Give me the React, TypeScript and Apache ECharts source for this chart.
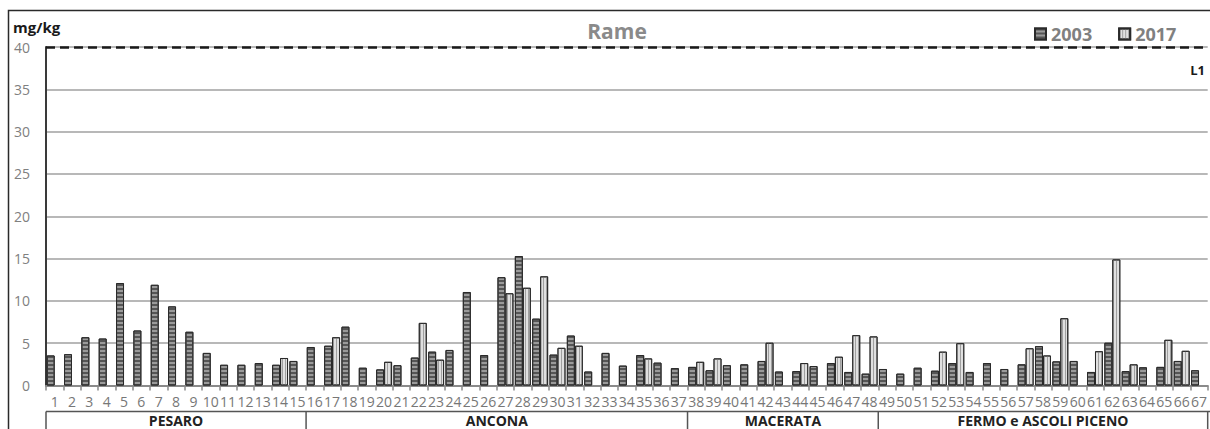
import React, { useEffect, useRef } from "react";
import * as echarts from "echarts";

const categories = [
  "1", "2", "3", "4", "5", "6", "7", "8", "9", "10",
  "11", "12", "13", "14", "15", "16", "17", "18", "19", "20",
  "21", "22", "23", "24", "25", "26", "27", "28", "29", "30",
  "31", "32", "33", "34", "35", "36", "37", "38", "39", "40",
  "41", "42", "43", "44", "45", "46", "47", "48", "49", "50",
  "51", "52", "53", "54", "55", "56", "57", "58", "59", "60",
  "61", "62", "63", "64", "65", "66", "67",
];

const values2003 = [
  3.55, 3.7, 5.7, 5.55, 12.1, 6.5, 11.9, 9.35, 6.35, 3.85,
  2.45, 2.45, 2.65, 2.45, 2.9, 4.55, 4.7, 6.95, 2.1, 1.9,
  2.4, 3.3, 4.0, 4.2, 11.05, 3.6, 12.8, 15.3, 7.9, 3.65,
  5.9, 1.65, 3.85, 2.35, 3.6, 2.7, 2.05, 2.2, 1.8, 2.4,
  2.5, 2.9, 1.65, 1.7, 2.3, 2.65, 1.6, 1.4, 1.95, 1.4,
  2.1, 1.75, 2.65, 1.6, 2.65, 1.95, 2.5, 4.65, 2.85, 2.9,
  1.6, 5.05, 1.7, 2.15, 2.2, 2.9, 1.8,
];

const values2017 = [
  null, null, null, null, null, null, null, null, null, null,
  null, null, null, 3.25, null, null, 5.7, null, null, 2.8,
  null, 7.4, 3.05, null, null, null, 10.9, 11.55, 12.9, 4.45,
  4.7, null, null, null, 3.2, null, null, 2.8, 3.2, null,
  null, 5.05, null, 2.65, null, 3.4, 5.95, 5.8, null, null,
  null, 4.0, 5.0, null, null, null, 4.4, 3.55, 7.95, null,
  4.05, 14.9, 2.5, null, 5.4, 4.1, null,
];

const seriesNames = ["2003", "2017"];
const groupNames = ["PESARO", "ANCONA", "MACERATA", "FERMO e ASCOLI PICENO"];
const groupLastCategory = ["15", "37", "48", "67"];
const limitValue = 40;
const limitLabel = "L1";
const unitLabel = "mg/kg";
const titleText = "Rame";

const FONT = "'Open Sans', 'Liberation Sans', sans-serif";

export default function App() {
  const ref = useRef<HTMLDivElement>(null);

  useEffect(() => {
    if (!ref.current) return;
    const chart = echarts.init(ref.current, null, { renderer: "svg" });

    const option: any = {
      animation: false,
      aria: { enabled: true, decal: { show: true } },
      textStyle: { fontFamily: FONT },
      legend: {
        data: seriesNames,
        left: 1029,
        top: 20,
        icon: "rect",
        itemWidth: 11,
        itemHeight: 11,
        itemGap: 26,
        textStyle: { fontSize: 18, fontWeight: "bold", color: "#808080", fontFamily: FONT },
      },
      grid: { left: 46, right: -1, top: 47, bottom: 43.5, containLabel: false },
      xAxis: {
        type: "category",
        data: categories,
        axisLine: { show: true, lineStyle: { color: "#8a8a8a", width: 2 } },
        axisTick: { show: true, length: 5, lineStyle: { color: "#8a8a8a", width: 1.5 } },
        axisLabel: { interval: 0, color: "#777", fontSize: 14, margin: 9, fontFamily: FONT },
        splitLine: { show: false },
      },
      yAxis: {
        type: "value",
        min: 0,
        max: 40,
        interval: 5,
        axisLine: { show: true, lineStyle: { color: "#3a3a3a", width: 2 } },
        axisTick: { show: false },
        axisLabel: { color: "#808080", fontSize: 14, margin: 16, fontFamily: FONT },
        splitLine: { show: true, lineStyle: { color: "#b8b8b8", width: 2 } },
      },
      series: [
        {
          name: seriesNames[0],
          type: "bar",
          data: values2003,
          barGap: "0%",
          barCategoryGap: "8%",
          itemStyle: {
            color: "#9a9a9a",
            borderColor: "#2a2a2a",
            borderWidth: 1,
            decal: {
              symbol: "rect",
              symbolSize: 1,
              rotation: 0,
              dashArrayX: [10, 0],
              dashArrayY: [2, 2],
              color: "#555555",
            },
          },
          markLine: {
            silent: true,
            symbol: "none",
            data: [{ yAxis: limitValue }],
            lineStyle: { color: "#1a1a1a", type: [9, 5], width: 2.5 },
            label: { show: false },
          },
        },
        {
          name: seriesNames[1],
          type: "bar",
          data: values2017,
          itemStyle: {
            color: "#e0e0e0",
            borderColor: "#2a2a2a",
            borderWidth: 1,
            decal: {
              symbol: "rect",
              symbolSize: 1,
              rotation: 0,
              dashArrayX: [1, 2],
              dashArrayY: [10, 0],
              color: "#a0a0a0",
            },
          },
        },
      ],
    };

    chart.setOption(option);

    const p0 = chart.convertToPixel({ xAxisIndex: 0 }, categories[0]) as number;
    const p1 = chart.convertToPixel({ xAxisIndex: 0 }, categories[1]) as number;
    const band = p1 - p0;
    const leftEdge = p0 - band / 2;
    const boxTop = 411.5;
    const graphics: any[] = [];

    graphics.push({
      type: "polyline",
      shape: { points: [[8.5, 440], [8.5, 10.5], [1220, 10.5]] },
      style: { stroke: "#2a2a2a", lineWidth: 1.5, fill: "none" },
      silent: true,
    });
    graphics.push({
      type: "line",
      shape: { x1: leftEdge, y1: boxTop, x2: 1220, y2: boxTop },
      style: { stroke: "#555", lineWidth: 1.5 },
      silent: true,
    });
    graphics.push({
      type: "line",
      shape: { x1: leftEdge, y1: boxTop, x2: leftEdge, y2: 440 },
      style: { stroke: "#555", lineWidth: 1.5 },
      silent: true,
    });
    let start = leftEdge;
    groupNames.forEach((name, i) => {
      const endCenter = chart.convertToPixel({ xAxisIndex: 0 }, groupLastCategory[i]) as number;
      const end = endCenter + band / 2;
      graphics.push({
        type: "line",
        shape: { x1: end, y1: boxTop, x2: end, y2: 440 },
        style: { stroke: "#555", lineWidth: 1.5 },
        silent: true,
      });
      graphics.push({
        type: "text",
        x: (start + end) / 2,
        y: 420.5,
        style: {
          text: name,
          fontSize: 14,
          fontWeight: "bold",
          fill: "#222",
          fontFamily: FONT,
          align: "center",
          verticalAlign: "middle",
        },
        silent: true,
      });
      start = end;
    });

    graphics.push({
      type: "text",
      x: 13,
      y: 27,
      style: {
        text: unitLabel,
        fontSize: 15,
        fontWeight: "bold",
        fill: "#1a1a1a",
        fontFamily: FONT,
        align: "left",
        verticalAlign: "middle",
      },
      silent: true,
    });
    graphics.push({
      type: "text",
      x: 617,
      y: 31,
      style: {
        text: titleText,
        fontSize: 21,
        fontWeight: "bold",
        fill: "#8a8a8a",
        fontFamily: FONT,
        align: "center",
        verticalAlign: "middle",
      },
      silent: true,
    });
    const limitY = chart.convertToPixel({ yAxisIndex: 0 }, limitValue) as number;
    graphics.push({
      type: "text",
      x: 1205,
      y: limitY + 23,
      style: {
        text: limitLabel,
        fontSize: 13,
        fontWeight: "bold",
        fill: "#1a1a1a",
        fontFamily: FONT,
        align: "right",
        verticalAlign: "middle",
      },
      silent: true,
    });

    chart.setOption({ graphic: graphics });

    return () => {
      chart.dispose();
    };
  }, []);

  return (
    <div
      ref={ref}
      style={{ position: "absolute", left: 0, top: 0, width: 1210, height: 429, background: "#fff" }}
    />
  );
}
